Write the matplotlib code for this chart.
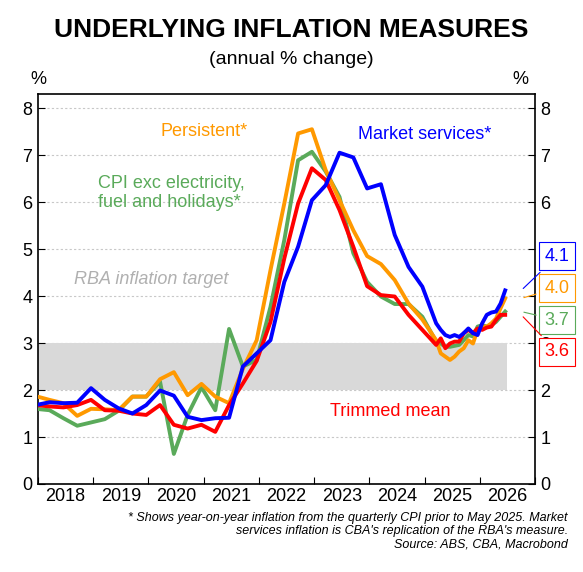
import matplotlib
matplotlib.use("Agg")
import matplotlib.pyplot as plt
import numpy as np

plt.rcParams['font.family'] = ['Liberation Sans', 'DejaVu Sans']

# quarterly observations (Mar-2018 quarter onwards), then monthly from Apr 2025
n_q = 30
quarter_x = [2017.96 + 0.25 * k for k in range(n_q)]
month_x = [quarter_x[-1] + m / 12 for m in range(1, 16)]
dates = quarter_x + month_x

market_services = [1.68, 1.74, 1.72, 1.73, 2.04, 1.79, 1.61, 1.50, 1.68, 1.99, 1.88, 1.43, 1.36, 1.40, 1.41,
                   2.50, 2.78, 3.06, 4.30, 5.05, 6.04, 6.36, 7.05, 6.95, 6.29, 6.38, 5.30, 4.62, 4.20, 3.42,
                   3.28, 3.17, 3.13, 3.17, 3.13, 3.21, 3.31, 3.21, 3.17, 3.42, 3.60, 3.65, 3.67, 3.84, 4.12]
persistent = [1.87, 1.79, 1.72, 1.45, 1.60, 1.59, 1.57, 1.86, 1.86, 2.23, 2.38, 1.89, 2.13, 1.86, 1.72,
              2.45, 3.06, 4.55, 5.97, 7.46, 7.55, 6.68, 6.04, 5.40, 4.85, 4.68, 4.34, 3.84, 3.50, 3.06,
              2.78, 2.71, 2.64, 2.71, 2.82, 2.89, 3.06, 2.99, 3.28, 3.35, 3.35, 3.42, 3.52, 3.74, 3.95]
cpi_exc = [1.60, 1.57, 1.40, 1.24, 1.31, 1.38, 1.56, 1.86, 1.86, 2.18, 0.64, 1.47, 2.06, 1.57, 3.30,
           2.50, 2.64, 3.77, 5.19, 6.89, 7.07, 6.65, 6.11, 4.91, 4.30, 3.99, 3.83, 3.83, 3.56, 3.03,
           2.99, 2.92, 2.92, 2.94, 2.96, 3.06, 3.17, 3.14, 3.35, 3.38, 3.35, 3.38, 3.45, 3.56, 3.67]
trimmed_mean = [1.68, 1.65, 1.63, 1.68, 1.79, 1.57, 1.56, 1.50, 1.47, 1.68, 1.26, 1.18, 1.26, 1.11, 1.68,
                2.14, 2.62, 3.45, 4.80, 5.97, 6.72, 6.47, 5.83, 5.05, 4.21, 4.02, 3.99, 3.60, 3.28, 2.96,
                3.10, 2.89, 2.99, 3.03, 3.03, 3.21, 3.28, 3.21, 3.31, 3.28, 3.33, 3.35, 3.49, 3.60, 3.60]

year_labels = ["2018", "2019", "2020", "2021", "2022", "2023", "2024", "2025", "2026"]
latest_labels = ["4.1", "4.0", "3.7", "3.6"]
target_lo, target_hi = 2, 3

BLUE, ORANGE, GREEN, RED = "#0000ff", "#ff9900", "#5aaa5a", "#ff0000"

fig = plt.figure(figsize=(5.83, 5.72), dpi=100)
ax = fig.add_axes([38/583, 1-484/572, (535-38)/583, (484-94)/572])
ax.set_xlim(2018, 2027)
ax.set_ylim(0, 8.3)

ax.fill_between([2018, 2026.5], target_lo, target_hi, color="#d9d9d9", lw=0, zorder=1)
for v in range(1, 9):
    ax.axhline(v, color="#c8c8c8", lw=0.8, ls=(0, (2, 2)), zorder=0)

ax.plot(dates, cpi_exc, color=GREEN, lw=2.8, zorder=3)
ax.plot(dates, persistent, color=ORANGE, lw=2.8, zorder=4)
ax.plot(dates, trimmed_mean, color=RED, lw=2.8, zorder=5)
ax.plot(dates, market_services, color=BLUE, lw=2.8, zorder=6)

ax.set_xticks(range(2018, 2028))
ax.set_xticklabels([])
ax.set_xticks([y + 0.5 for y in range(2018, 2027)], minor=True)
ax.set_xticklabels(year_labels, minor=True, fontsize=13)
ax.tick_params(axis='x', which='minor', length=0, pad=3)
ax.tick_params(axis='x', which='major', length=5, direction='in')
ax.set_yticks(range(0, 9))
ax.tick_params(axis='y', labelsize=13, direction='in', length=5, right=True, labelright=True, pad=4)
for s in ax.spines.values():
    s.set_linewidth(1.2)

fig.text(38/583, 1-84/572, "%", ha='center', fontsize=13)
fig.text(520/583, 1-84/572, "%", ha='center', fontsize=13)

ax.text(2021.0, 7.4, "Persistent*", color=ORANGE, fontsize=13, ha='center')
ax.text(2025.0, 7.35, "Market services*", color=BLUE, fontsize=13, ha='center')
ax.text(2019.08, 5.9, "CPI exc electricity,\nfuel and holidays*", color=GREEN, fontsize=13,
        ha='left', linespacing=1.1)
ax.text(2020.05, 4.25, "RBA inflation target", color="#b0b0b0", fontsize=13, ha='center', style='italic')
ax.text(2024.37, 1.45, "Trimmed mean", color=RED, fontsize=13, ha='center')

box_y = [4.85, 4.17, 3.49, 2.81]
colors = [BLUE, ORANGE, GREEN, RED]
ends = [market_services[-1], persistent[-1], cpi_exc[-1], trimmed_mean[-1]]
for lab, by, c, e in zip(latest_labels, box_y, colors, ends):
    ax.annotate(lab, xy=(2026.75, e), xytext=(2027.4, by), xycoords='data', textcoords='data',
                color=c, fontsize=13, ha='center', va='center', annotation_clip=False,
                bbox=dict(boxstyle='square,pad=0.3', fc='white', ec=c, lw=0.8, alpha=1),
                arrowprops=dict(arrowstyle='-', color=c, lw=0.8))

fig.text(0.5, 1-30/572, "UNDERLYING INFLATION MEASURES", ha='center', va='center',
         fontsize=19, fontweight='bold')
fig.text(0.5, 1-60/572, "(annual % change)", ha='center', va='center', fontsize=14)
fig.text(568/583, 1-512/572,
         "* Shows year-on-year inflation from the quarterly CPI prior to May 2025. Market\n"
         "services inflation is CBA's replication of the RBA's measure.\n"
         "Source: ABS, CBA, Macrobond",
         ha='right', va='top', fontsize=9, style='italic', linespacing=1.15)

fig.savefig("out.png", dpi=100)
